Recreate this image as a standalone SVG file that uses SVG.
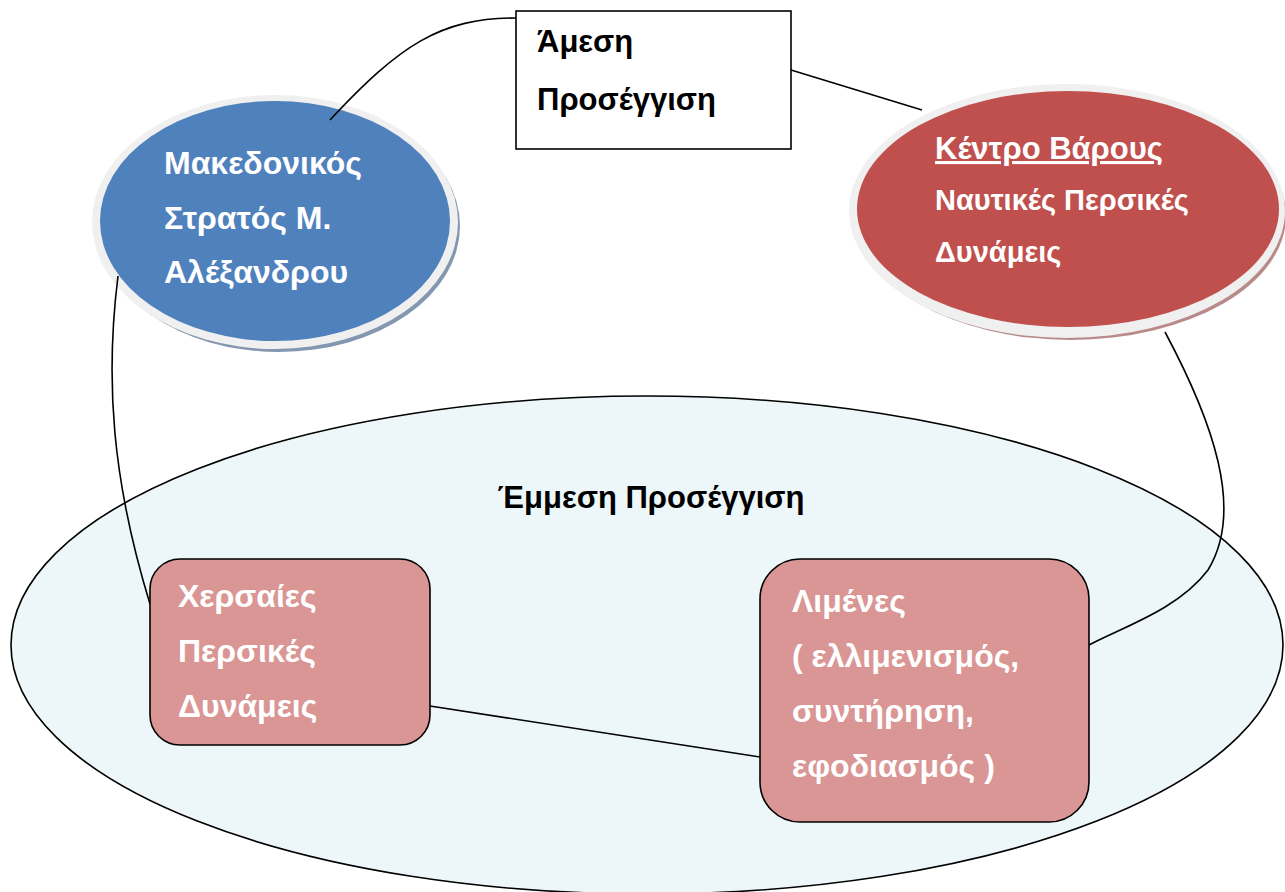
<svg xmlns="http://www.w3.org/2000/svg" width="1285" height="892" viewBox="0 0 1285 892">
<style>
.t{font-family:"Liberation Sans",Arial,sans-serif;font-weight:bold;font-size:31px}
.b{font-size:32px}
.r{font-size:29px}
.w{fill:#ffffff}
.k{fill:#000000}
.c{fill:none;stroke:#000;stroke-width:1.6}
.box{fill:#D99694;stroke:#000;stroke-width:1.6}
</style>
<rect width="1285" height="892" fill="#ffffff"/>
<g id="indirect">
<ellipse cx="647" cy="645" rx="636" ry="249" fill="#EDF6F9" stroke="#000" stroke-width="1.6"/>
<text class="t k" x="651" y="508" text-anchor="middle">Έμμεση Προσέγγιση</text>
</g>
<g id="macedonian">
<ellipse cx="279" cy="226" rx="181" ry="126" fill="#8497B0"/>
<ellipse cx="275" cy="222" rx="183" ry="127" fill="#F0F0F0"/>
<ellipse cx="275" cy="221" rx="175" ry="120" fill="#4F81BD"/>
<text class="t b w" x="164" y="174">Μακεδονικός</text>
<text class="t b w" x="164" y="229">Στρατός Μ.</text>
<text class="t b w" x="164" y="283">Αλέξανδρου</text>
</g>
<g id="direct">
<rect x="516" y="11" width="275" height="138" fill="#fff" stroke="#000" stroke-width="1.6"/>
<text class="t k" x="537" y="52">Άμεση</text>
<text class="t k" x="537" y="110">Προσέγγιση</text>
</g>
<g id="center">
<ellipse cx="1071" cy="216" rx="215" ry="124" fill="#B88A8A"/>
<ellipse cx="1067" cy="211" rx="218" ry="127" fill="#F0F0F0"/>
<ellipse cx="1068" cy="209" rx="211" ry="118" fill="#C0504D"/>
<text class="t w" x="935" y="159" text-decoration="underline">Κέντρο Βάρους</text>
<text class="t r w" x="935" y="210">Ναυτικές Περσικές</text>
<text class="t r w" x="935" y="262">Δυνάμεις</text>
</g>
<g id="connectors">
<path class="c" d="M330,120 C400,45 440,18 516,18"/>
<path class="c" d="M791,70 L922,110"/>
<path class="c" d="M118,276 C105,380 112,480 150,604"/>
<path class="c" d="M1165,332 C1212,420 1245,510 1208,570 C1178,610 1120,628 1089,645"/>
<path class="c" d="M430,706 L760,757"/>
</g>
<g id="land">
<rect class="box" x="150" y="559" width="280" height="186" rx="30"/>
<text class="t b w" x="178" y="607">Χερσαίες</text>
<text class="t b w" x="178" y="662">Περσικές</text>
<text class="t b w" x="178" y="717">Δυνάμεις</text>
</g>
<g id="ports">
<rect class="box" x="760" y="559" width="329" height="263" rx="40"/>
<text class="t b w" x="792" y="612">Λιμένες</text>
<text class="t b w" x="792" y="667">( ελλιμενισμός,</text>
<text class="t b w" x="792" y="722">συντήρηση,</text>
<text class="t b w" x="792" y="777">εφοδιασμός )</text>
</g>
</svg>
